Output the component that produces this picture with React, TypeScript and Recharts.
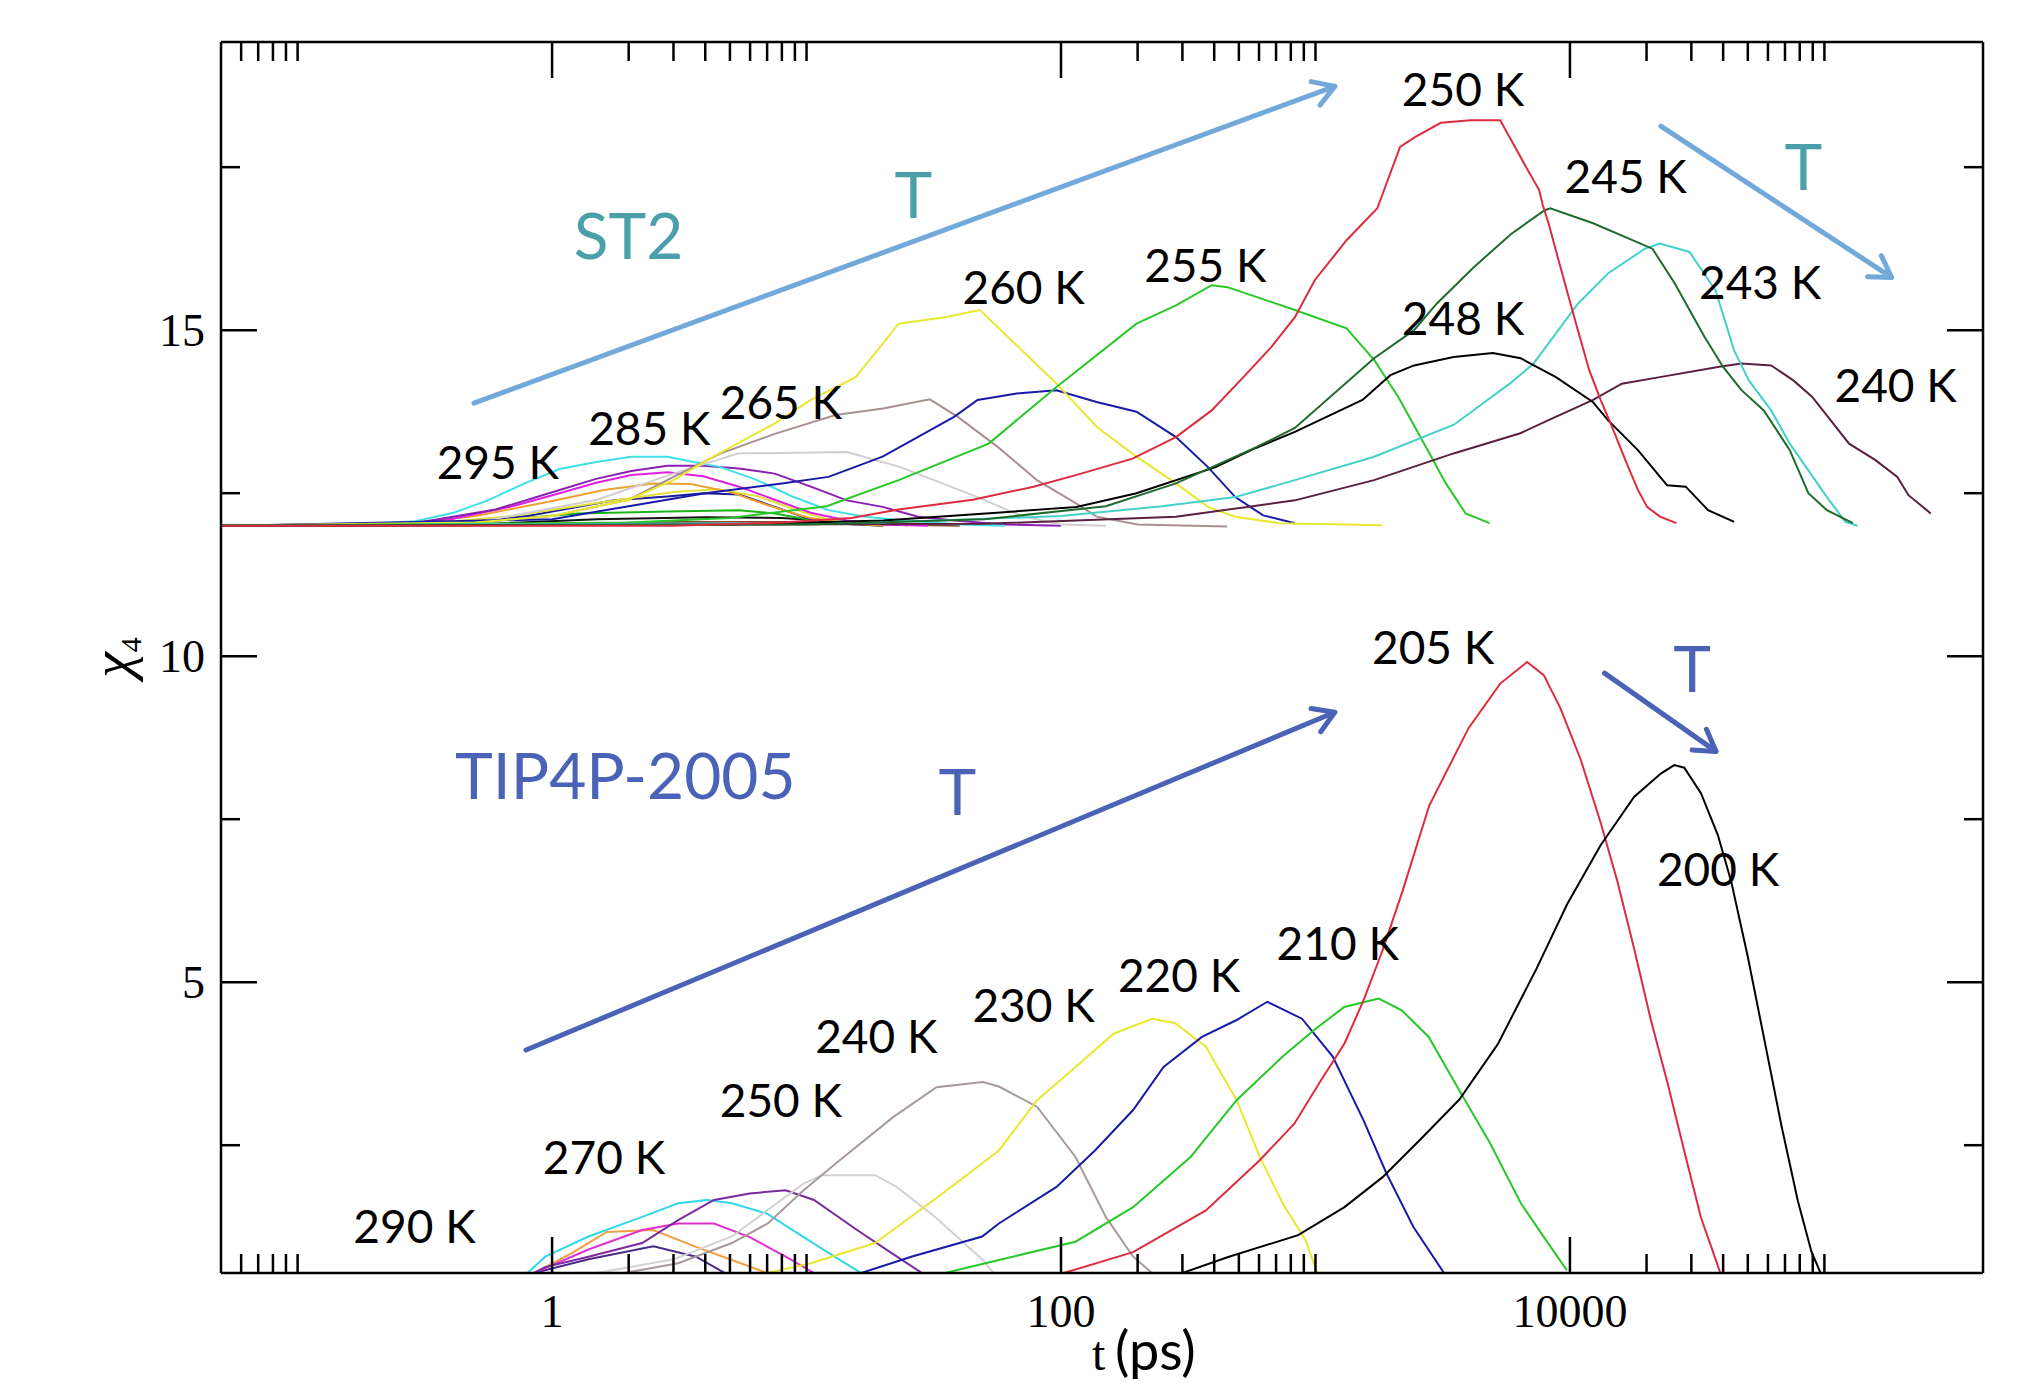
import React from "react";
import { LineChart, Line, XAxis, YAxis, ReferenceLine, ReferenceDot } from "recharts";

type Pt = [number, number];

// ---- ST2 curves (chi4 shifted up by 12) : [t (ps), chi4] ----
const st2_250K: Pt[] = [[0.05, 12], [3, 12], [8, 12.05], [15, 12.12], [23, 12.25], [45, 12.4], [78, 12.6], [120, 12.8], [191, 13.03], [283, 13.36], [391, 13.77], [521, 14.28], [670, 14.74], [830, 15.2], [995, 15.77], [1325, 16.38], [1750, 16.87], [2150, 17.81], [2460, 17.96], [3110, 18.18], [4070, 18.22], [5320, 18.22], [5890, 17.91], [6730, 17.5], [7570, 17.15], [7820, 16.92], [8240, 16.64], [9100, 16.02], [10400, 15.2], [11900, 14.39], [13200, 13.93], [14800, 13.47], [16700, 12.96], [18500, 12.55], [20100, 12.29], [22600, 12.14], [26200, 12.04]];
const st2_245K: Pt[] = [[0.05, 12], [10, 12.02], [50, 12.1], [150, 12.3], [283, 12.65], [580, 13.2], [830, 13.5], [1700, 14.57], [2440, 15.0], [3000, 15.41], [4200, 15.97], [5890, 16.48], [7960, 16.84], [8370, 16.87], [12330, 16.64], [21090, 16.25], [25800, 15.72], [33770, 14.9], [39930, 14.44], [47220, 14.08], [57800, 13.77], [73100, 13.16], [86500, 12.5], [102300, 12.24], [129400, 12.04]];
const st2_248K: Pt[] = [[0.05, 12], [5, 12.02], [20, 12.08], [56, 12.2], [115, 12.29], [198, 12.5], [405, 12.9], [580, 13.19], [830, 13.44], [1530, 13.93], [1970, 14.31], [2440, 14.46], [3490, 14.59], [4980, 14.65], [6400, 14.57], [8810, 14.28], [12300, 13.9], [14100, 13.62], [18500, 13.16], [24100, 12.62], [28500, 12.6], [34900, 12.24], [44200, 12.06]];
const st2_243K: Pt[] = [[0.05, 12], [20, 12.05], [100, 12.15], [250, 12.3], [484, 12.44], [830, 12.7], [1700, 13.06], [3500, 13.55], [5890, 14.2], [7200, 14.49], [8810, 14.95], [10770, 15.41], [14100, 15.87], [19720, 16.25], [22560, 16.33], [29510, 16.2], [37350, 15.61], [44170, 14.69], [50470, 14.23], [61780, 13.77], [73100, 13.26], [86500, 12.85], [102300, 12.44], [120900, 12.06], [135000, 12.0]];
const st2_240K: Pt[] = [[0.05, 12], [50, 12.03], [283, 12.14], [540, 12.29], [830, 12.39], [1700, 12.7], [3490, 13.11], [6384, 13.42], [8240, 13.62], [12330, 13.93], [16000, 14.18], [22560, 14.28], [38640, 14.44], [47220, 14.49], [61780, 14.46], [75500, 14.23], [89400, 13.98], [105700, 13.62], [125000, 13.26], [158200, 13.01], [193500, 12.75], [214000, 12.47], [261800, 12.19]];
const st2_255K: Pt[] = [[0.05, 12], [2, 12.05], [5, 12.12], [12, 12.3], [23, 12.7], [52, 13.26], [96, 14.13], [198, 15.1], [283, 15.38], [391, 15.69], [451, 15.66], [830, 15.31], [1325, 15.03], [1703, 14.54], [2113, 13.98], [2717, 13.21], [3253, 12.65], [3890, 12.19], [4830, 12.04]];
const st2_260K: Pt[] = [[0.05, 12], [0.5, 12.05], [1, 12.15], [2, 12.4], [3, 12.7], [4.3, 13.06], [7.5, 13.57], [10.4, 13.93], [15.6, 14.28], [19.8, 14.78], [23, 15.1], [35, 15.2], [48, 15.31], [96, 14.18], [138, 13.52], [198, 13.06], [283, 12.65], [378, 12.29], [484, 12.14], [720, 12.04], [1830, 12.01]];
const st2_262K: Pt[] = [[0.05, 12], [1, 12.1], [2, 12.3], [4, 12.5], [8, 12.65], [12.2, 12.75], [19.9, 13.06], [38, 13.67], [47, 13.93], [67, 14.03], [96, 14.08], [138, 13.9], [198, 13.75], [283, 13.36], [378, 12.9], [484, 12.44], [623, 12.16], [830, 12.04]];
const st2_265K: Pt[] = [[0.05, 12], [0.5, 12.05], [1, 12.15], [2, 12.4], [3, 12.75], [4.6, 13.11], [7.5, 13.41], [13, 13.7], [20, 13.8], [30.5, 13.94], [39.3, 13.67], [56.4, 13.21], [80.5, 12.7], [115, 12.34], [138, 12.14], [200, 12.02], [450, 11.99]];
const st2_270K: Pt[] = [[0.05, 12], [0.5, 12.05], [1.5, 12.4], [3, 12.8], [5.4, 13.11], [14.4, 13.13], [23.4, 12.9], [47, 12.44], [70, 12.15], [100, 12.02], [150, 12.0]];
const st2_295K: Pt[] = [[0.05, 12], [0.15, 12.01], [0.29, 12.07], [0.41, 12.2], [0.56, 12.39], [0.78, 12.65], [1.07, 12.87], [1.49, 12.98], [2.05, 13.06], [2.84, 13.06], [3.6, 12.98], [4.6, 12.9], [6.4, 12.7], [8.8, 12.45], [12.2, 12.24], [17, 12.14], [23, 12.09], [40, 12.02], [60, 12.0]];
const st2_285K: Pt[] = [[0.05, 12], [0.15, 12.0], [0.3, 12.05], [0.6, 12.25], [1.07, 12.55], [1.49, 12.72], [2.05, 12.84], [2.84, 12.92], [3.93, 12.92], [5.43, 12.88], [7.5, 12.8], [10.4, 12.6], [14.4, 12.39], [19.9, 12.29], [27.5, 12.14], [38, 12.08], [60, 12.02], [100, 12.0]];
const st2_280K: Pt[] = [[0.05, 12], [0.2, 12.01], [0.4, 12.1], [0.7, 12.3], [1.07, 12.5], [1.49, 12.66], [2.05, 12.78], [2.84, 12.82], [3.93, 12.76], [5.43, 12.6], [7.5, 12.4], [10.4, 12.2], [14.4, 12.08], [20, 12.02], [30, 12.0]];
const st2_290K: Pt[] = [[0.05, 12], [0.25, 12.02], [0.5, 12.15], [1, 12.38], [1.6, 12.55], [2.5, 12.65], [3.5, 12.64], [5, 12.52], [7, 12.32], [10, 12.13], [14, 12.04], [20, 12.0]];
const st2_275K: Pt[] = [[0.05, 12], [0.3, 12.02], [0.7, 12.15], [1.5, 12.35], [3, 12.52], [4.5, 12.56], [6.5, 12.45], [9, 12.25], [12, 12.1], [16, 12.02]];
const st2_300K: Pt[] = [[0.05, 12], [0.3, 12.01], [0.8, 12.15], [1.75, 12.39], [2.84, 12.45], [3.93, 12.5], [5.43, 12.48], [7.5, 12.29], [10, 12.12], [14, 12.03], [20, 12.0]];
const st2_310K: Pt[] = [[0.05, 12], [0.4, 12.02], [1.26, 12.19], [2.84, 12.22], [5.43, 12.24], [7.5, 12.19], [10, 12.1], [14, 12.03], [20, 12.0]];
const st2_320K: Pt[] = [[0.05, 12], [0.5, 12.02], [1.5, 12.1], [4, 12.13], [8, 12.12], [14, 12.06], [25, 12.01]];
const st2_330K: Pt[] = [[0.05, 12], [0.8, 12.02], [3, 12.06], [10, 12.06], [20, 12.02], [40, 12.0]];

// ---- TIP4P/2005 curves ----
const tip_205K: Pt[] = [[102.6, 0.54], [192, 0.86], [371, 1.5], [604, 2.27], [826, 2.83], [1053, 3.5], [1300, 4.06], [1545, 4.72], [1836, 5.49], [2200, 6.4], [2800, 7.71], [4000, 8.9], [5320, 9.58], [6790, 9.91], [7890, 9.71], [9180, 9.2], [11010, 8.42], [13200, 7.45], [15360, 6.55], [17860, 5.52], [20800, 4.42], [24200, 3.45], [28100, 2.42], [32720, 1.39], [36900, 0.81], [39240, 0.51]];
const tip_200K: Pt[] = [[300, 0.54], [457, 0.79], [855, 1.12], [1300, 1.55], [1836, 2.01], [2600, 2.6], [3676, 3.2], [5207, 4.05], [7376, 5.2], [9760, 6.2], [13200, 7.1], [17860, 7.84], [22760, 8.2], [25700, 8.33], [28140, 8.29], [32720, 7.9], [38100, 7.26], [43000, 6.55], [50000, 5.39], [58200, 4.1], [67700, 2.81], [78700, 1.64], [88900, 0.87], [97300, 0.51]];
const tip_210K: Pt[] = [[35, 0.54], [57, 0.74], [114, 1.02], [192, 1.55], [323, 2.32], [490, 3.19], [743, 3.86], [982, 4.26], [1297, 4.62], [1774, 4.75], [2183, 4.57], [2786, 4.16], [3676, 3.34], [4856, 2.53], [6413, 1.61], [7900, 1.09], [9730, 0.58]];
const tip_220K: Pt[] = [[16.4, 0.54], [25.8, 0.79], [49, 1.1], [57, 1.3], [96, 1.86], [136, 2.42], [192, 3.04], [253, 3.7], [358, 4.16], [490, 4.42], [647, 4.7], [885, 4.44], [1169, 3.86], [1545, 2.88], [1900, 2.07], [2423, 1.25], [3200, 0.54]];
const tip_230K: Pt[] = [[7, 0.54], [10.4, 0.69], [18.6, 1.0], [35.6, 1.81], [57, 2.42], [80.5, 3.19], [114, 3.7], [161, 4.21], [228, 4.44], [281, 4.37], [371, 4.01], [490, 3.19], [604, 2.32], [743, 1.61], [916, 1.04], [1016, 0.54]];
const tip_240K: Pt[] = [[1.92, 0.54], [3.13, 0.69], [5.09, 1.0], [7.04, 1.3], [9.74, 1.81], [13.5, 2.27], [21.9, 2.93], [32.4, 3.39], [49.3, 3.47], [57, 3.4], [80.5, 3.09], [114, 2.32], [150, 1.4], [192, 0.79], [228, 0.54]];
const tip_250K: Pt[] = [[1.5, 0.54], [3, 0.75], [5.09, 1.1], [7, 1.5], [9.74, 1.91], [11.5, 2.04], [18.6, 2.04], [22.6, 1.86], [32, 1.4], [49.3, 0.74], [54.3, 0.54]];
const tip_260K: Pt[] = [[0.85, 0.54], [0.94, 0.63], [1.39, 0.79], [2.26, 1.0], [3.13, 1.35], [4.33, 1.66], [5.98, 1.76], [8.28, 1.81], [10.7, 1.66], [15.8, 1.2], [21.9, 0.83], [28.4, 0.54]];
const tip_270K: Pt[] = [[0.8, 0.54], [0.94, 0.79], [1.39, 1.1], [2.26, 1.4], [3.13, 1.61], [4.06, 1.66], [5.09, 1.61], [7, 1.45], [9.74, 1.09], [13.5, 0.74], [16.4, 0.54]];
const tip_275K: Pt[] = [[0.85, 0.54], [1.39, 0.9], [2.26, 1.2], [3.13, 1.3], [4.33, 1.3], [5.98, 1.09], [8.28, 0.79], [10.7, 0.54]];
const tip_280K: Pt[] = [[0.85, 0.54], [1.2, 0.85], [1.64, 1.17], [2.5, 1.2], [3.68, 0.94], [5.09, 0.74], [7, 0.54]];
const tip_290K: Pt[] = [[0.85, 0.54], [1.39, 0.75], [2.5, 0.95], [3.68, 0.79], [4.77, 0.54]];

// ---- axes ----
const xMajor = [1, 100, 10000];
const xMinor = [0.06, 0.07, 0.08, 0.09, 0.1, 2, 3, 4, 5, 6, 7, 8, 9, 10, 200, 300, 400, 500, 600, 700, 800, 900, 1000, 20000, 30000, 40000, 50000, 60000, 70000, 80000, 90000, 100000];
const yMajor = [5, 10, 15];
const yMinor = [2.5, 7.5, 12.5, 17.5];

// ---- annotations [t, chi4] ----
const tempLabels: { text: string; t: number; y: number }[] = [
  { text: "250 K", t: 3800, y: 18.71 },
  { text: "245 K", t: 16560, y: 17.38 },
  { text: "243 K", t: 55900, y: 15.74 },
  { text: "240 K", t: 190500, y: 14.16 },
  { text: "248 K", t: 3800, y: 15.2 },
  { text: "255 K", t: 369, y: 16.01 },
  { text: "260 K", t: 71.3, y: 15.67 },
  { text: "265 K", t: 7.93, y: 13.91 },
  { text: "285 K", t: 2.41, y: 13.51 },
  { text: "295 K", t: 0.612, y: 12.99 },
  { text: "205 K", t: 2900, y: 10.15 },
  { text: "200 K", t: 38200, y: 6.75 },
  { text: "210 K", t: 1223, y: 5.61 },
  { text: "220 K", t: 291, y: 5.12 },
  { text: "230 K", t: 78, y: 4.66 },
  { text: "240 K", t: 18.8, y: 4.18 },
  { text: "250 K", t: 7.93, y: 3.2 },
  { text: "270 K", t: 1.6, y: 2.33 },
  { text: "290 K", t: 0.288, y: 1.27 },
];
const st2Titles = [
  { text: "ST2", t: 2.0, y: 16.47 },
  { text: "T", t: 26.3, y: 17.09 },
  { text: "T", t: 82600, y: 17.53 },
];
const tipTitles = [
  { text: "TIP4P-2005", t: 1.94, y: 8.19 },
  { text: "T", t: 39.2, y: 7.94 },
  { text: "T", t: 30200, y: 9.82 },
];
const st2Arrows: [Pt, Pt][] = [
  [[0.493, 13.88], [1191, 18.74]],
  [[22760, 18.13], [183600, 15.81]],
];
const tipArrows: [Pt, Pt][] = [
  [[0.79, 3.96], [1191, 9.14]],
  [[13680, 9.74], [37500, 8.54]],
];

const st2Series = [
  { pts: st2_330K, color: "#8b4a2b" },
  { pts: st2_320K, color: "#111111" },
  { pts: st2_310K, color: "#18b418" },
  { pts: st2_300K, color: "#1c1c9a" },
  { pts: st2_275K, color: "#e2e23a" },
  { pts: st2_290K, color: "#f0a030" },
  { pts: st2_280K, color: "#e020e0" },
  { pts: st2_285K, color: "#8a1fb0" },
  { pts: st2_295K, color: "#3fe0e8" },
  { pts: st2_270K, color: "#cfcfcf" },
  { pts: st2_265K, color: "#a89090" },
  { pts: st2_262K, color: "#1a1aa8" },
  { pts: st2_260K, color: "#e8e830" },
  { pts: st2_255K, color: "#28c828" },
  { pts: st2_240K, color: "#5b1f3f" },
  { pts: st2_243K, color: "#45d0c8" },
  { pts: st2_248K, color: "#000000" },
  { pts: st2_245K, color: "#1f6b2e" },
  { pts: st2_250K, color: "#dd2b3f" },
];
const tipSeries = [
  { pts: tip_290K, color: "#4b2a8a" },
  { pts: tip_280K, color: "#f0a040" },
  { pts: tip_275K, color: "#e030d0" },
  { pts: tip_270K, color: "#30d8e8" },
  { pts: tip_260K, color: "#7b2a9e" },
  { pts: tip_250K, color: "#d2d2d2" },
  { pts: tip_240K, color: "#a89a9a" },
  { pts: tip_230K, color: "#e8e830" },
  { pts: tip_220K, color: "#1a1aa8" },
  { pts: tip_210K, color: "#28c828" },
  { pts: tip_205K, color: "#dd2b3f" },
  { pts: tip_200K, color: "#000000" },
];

const W = 2037;
const H = 1386;
const SERIF = "'Liberation Serif', 'Times New Roman', serif";
const SANS = "Lato, 'Open Sans', sans-serif";
const TEAL = "#4a9fa9";
const LIGHT_BLUE = "#72a9da";
const DARK_BLUE = "#4a63b6";
const MAJOR = 36;
const MINOR = 19;

const rows = (pts: Pt[]) => pts.map(([t, y]) => ({ t, y }));

const BottomTick = (p: any) => {
  const v = p.payload.value;
  const major = xMajor.includes(v);
  return (
    <g>
      <line x1={p.x} y1={p.y} x2={p.x} y2={p.y - (major ? MAJOR : MINOR)} stroke="#000" strokeWidth={2.5} />
      {major && (
        <text x={p.x} y={p.y + 54} textAnchor="middle" fontFamily={SERIF} fontSize={46} fill="#000">
          {v}
        </text>
      )}
    </g>
  );
};
const TopTick = (p: any) => {
  const major = xMajor.includes(p.payload.value);
  return <line x1={p.x} y1={p.y} x2={p.x} y2={p.y + (major ? MAJOR : MINOR)} stroke="#000" strokeWidth={2.5} />;
};
const LeftTick = (p: any) => {
  const v = p.payload.value;
  const major = yMajor.includes(v);
  return (
    <g>
      <line x1={p.x} y1={p.y} x2={p.x + (major ? MAJOR : MINOR)} y2={p.y} stroke="#000" strokeWidth={2.5} />
      {major && (
        <text x={p.x - 16} y={p.y} dy="0.35em" textAnchor="end" fontFamily={SERIF} fontSize={46} fill="#000">
          {v}
        </text>
      )}
    </g>
  );
};
const RightTick = (p: any) => {
  const major = yMajor.includes(p.payload.value);
  return <line x1={p.x} y1={p.y} x2={p.x - (major ? MAJOR : MINOR)} y2={p.y} stroke="#000" strokeWidth={2.5} />;
};

const Arrow = (p: any) => {
  const { x1, y1, x2, y2, stroke } = p;
  const a = Math.atan2(y2 - y1, x2 - x1);
  const len = 24;
  const h1x = x2 - len * Math.cos(a - 0.55);
  const h1y = y2 - len * Math.sin(a - 0.55);
  const h2x = x2 - len * Math.cos(a + 0.55);
  const h2y = y2 - len * Math.sin(a + 0.55);
  return (
    <g stroke={stroke} strokeWidth={5} strokeLinecap="round" fill="none">
      <line x1={x1} y1={y1} x2={x2} y2={y2} />
      <polyline points={`${h1x},${h1y} ${x2},${y2} ${h2x},${h2y}`} strokeLinejoin="round" />
    </g>
  );
};

const textShape = (text: string, color: string, size: number) => (p: any) =>
  (
    <text x={p.cx} y={p.cy} textAnchor="middle" dominantBaseline="central" fontFamily={SANS} fontSize={size} fill={color}>
      {text}
    </text>
  );

const axisLine = { stroke: "#000", strokeWidth: 2.5 };

export default function App() {
  return (
    <div style={{ position: "fixed", left: 0, top: 0, width: W, height: H, background: "#fff" }}>
      <LineChart width={W} height={H} margin={{ top: 41, right: 53, bottom: 53, left: 121 }}>
        <XAxis
          xAxisId="b"
          dataKey="t"
          type="number"
          scale="log"
          domain={[0.05, 420000]}
          allowDataOverflow
          ticks={[...xMinor, ...xMajor].sort((a, b) => a - b)}
          interval={0}
          tickSize={0}
          tickMargin={0}
          tickLine={false}
          tick={BottomTick}
          axisLine={axisLine}
          height={60}
          label={(lp: any) => {
            const vb = lp.viewBox;
            const cx = vb.x + vb.width * 0.513;
            return (
              <text y={vb.y + 97} fill="#000">
                <tspan x={cx - 33} fontFamily={SERIF} fontSize={48}>t</tspan>
                <tspan x={cx - 10} fontFamily={SANS} fontSize={54}>(ps)</tspan>
              </text>
            );
          }}
        />
        <XAxis
          xAxisId="t"
          orientation="top"
          dataKey="t"
          type="number"
          scale="log"
          domain={[0.05, 420000]}
          allowDataOverflow
          ticks={[...xMinor, ...xMajor].sort((a, b) => a - b)}
          interval={0}
          tickSize={0}
          tickMargin={0}
          tickLine={false}
          tick={TopTick}
          axisLine={axisLine}
          height={1}
        />
        <YAxis
          yAxisId="l"
          type="number"
          domain={[0.54, 19.42]}
          allowDataOverflow
          ticks={[...yMinor, ...yMajor].sort((a, b) => a - b)}
          interval={0}
          tickSize={0}
          tickMargin={0}
          tickLine={false}
          tick={LeftTick}
          axisLine={axisLine}
          width={100}
          label={(lp: any) => {
            const vb = lp.viewBox;
            const cx = vb.x - 6;
            const cy = vb.y + vb.height * 0.5;
            return (
              <text transform={`rotate(-90 ${cx} ${cy})`} x={cx} y={cy + 16} textAnchor="middle" fontFamily={SERIF} fill="#000">
                <tspan fontSize={58} fontStyle="italic">χ</tspan>
                <tspan fontSize={30} dy={10}>4</tspan>
              </text>
            );
          }}
        />
        <YAxis
          yAxisId="r"
          orientation="right"
          type="number"
          domain={[0.54, 19.42]}
          allowDataOverflow
          ticks={[...yMinor, ...yMajor].sort((a, b) => a - b)}
          interval={0}
          tickSize={0}
          tickMargin={0}
          tickLine={false}
          tick={RightTick}
          axisLine={axisLine}
          width={1}
        />

        {[...tipSeries, ...st2Series].map((s, i) => (
          <Line
            key={i}
            xAxisId="b"
            yAxisId="l"
            data={rows(s.pts)}
            dataKey="y"
            type="linear"
            stroke={s.color}
            strokeWidth={2}
            dot={false}
            activeDot={false}
            isAnimationActive={false}
          />
        ))}

        {st2Arrows.map(([a, b], i) => (
          <ReferenceLine
            key={`sa${i}`}
            xAxisId="b"
            yAxisId="l"
            segment={[{ x: a[0], y: a[1] }, { x: b[0], y: b[1] }]}
            stroke={LIGHT_BLUE}
            shape={Arrow}
          />
        ))}
        {tipArrows.map(([a, b], i) => (
          <ReferenceLine
            key={`ta${i}`}
            xAxisId="b"
            yAxisId="l"
            segment={[{ x: a[0], y: a[1] }, { x: b[0], y: b[1] }]}
            stroke={DARK_BLUE}
            shape={Arrow}
          />
        ))}
        {st2Titles.map((l, i) => (
          <ReferenceDot key={`st${i}`} xAxisId="b" yAxisId="l" x={l.t} y={l.y} r={0} shape={textShape(l.text, TEAL, 64)} />
        ))}
        {tipTitles.map((l, i) => (
          <ReferenceDot key={`tt${i}`} xAxisId="b" yAxisId="l" x={l.t} y={l.y} r={0} shape={textShape(l.text, DARK_BLUE, 64)} />
        ))}
        {tempLabels.map((l, i) => (
          <ReferenceDot key={`tl${i}`} xAxisId="b" yAxisId="l" x={l.t} y={l.y} r={0} shape={textShape(l.text, "#000", 46)} />
        ))}
      </LineChart>
    </div>
  );
}
